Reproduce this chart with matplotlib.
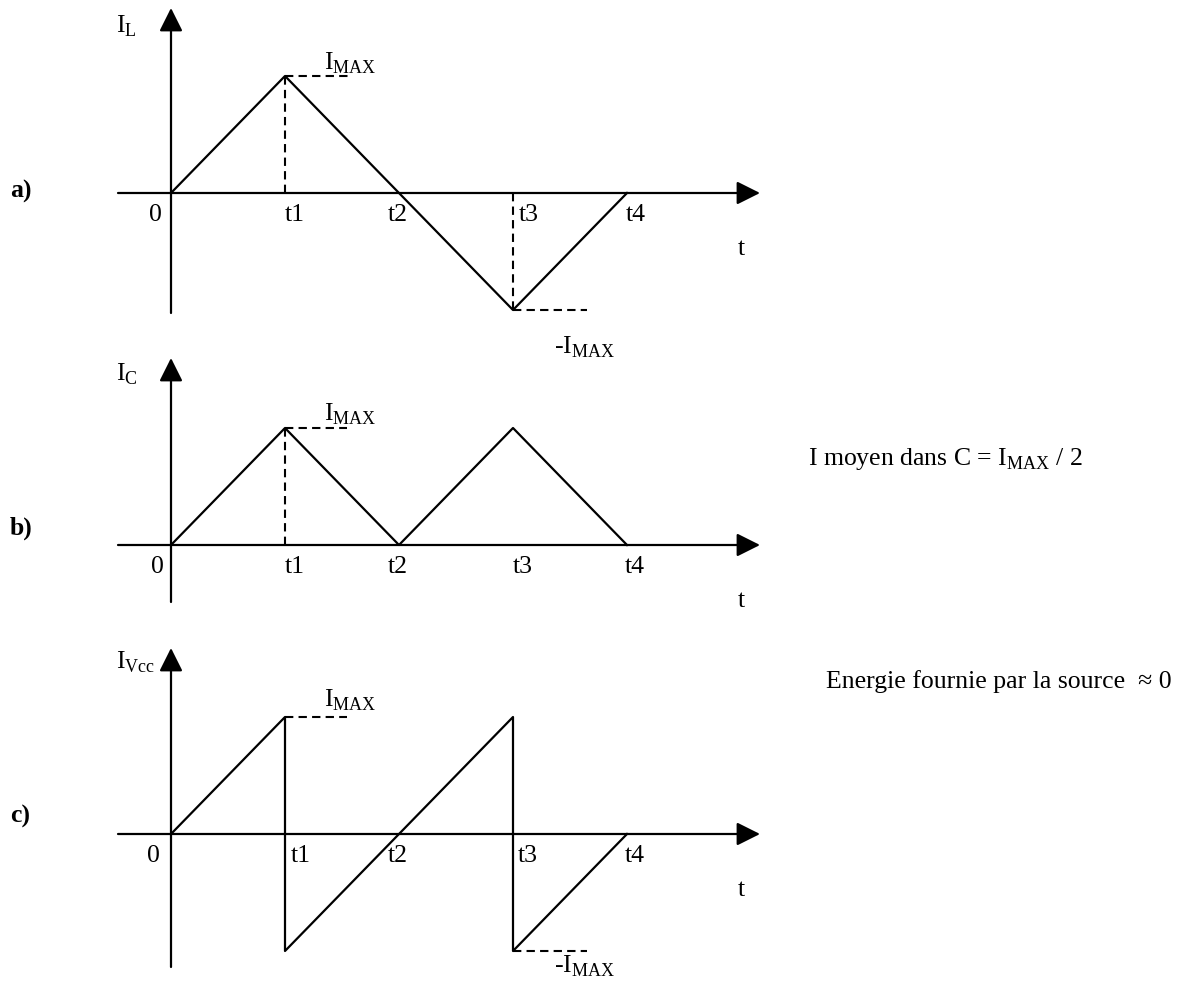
import matplotlib
matplotlib.use('Agg')
import matplotlib.pyplot as plt

plt.rcParams['font.family'] = ['Liberation Serif', 'DejaVu Serif']
plt.rcParams['mathtext.fontset'] = 'custom'
plt.rcParams['mathtext.rm'] = 'Liberation Serif'

# courbes (temps en unites t1..t4, courant en unites de IMAX)
t = [0, 1, 2, 3, 4]
i_L = [0, 1, 0, -1, 0]
i_C = [0, 1, 0, 1, 0]
t_vcc = [0, 1, 1, 2, 3, 3, 4]
i_vcc = [0, 1, -1, 0, 1, -1, 0]
tick_names = ['0', 't1', 't2', 't3', 't4']

W, H = 1181, 981
X0, UX, UY = 171, 114, 117
FS = 18.5
LW = 1.6

fig = plt.figure(figsize=(11.81, 9.81), dpi=100)


def panel(top, bot, y0):
    ax = fig.add_axes([0, 1 - bot / H, 1, (bot - top) / H])
    ax.set_xlim(-X0 / UX, (W - X0) / UX)
    ax.set_ylim((y0 - bot) / UY, (y0 - top) / UY)
    ax.axis('off')
    return ax


def px(x):
    return (x - X0) / UX


def arrow(ax, p1, p2):
    ax.annotate('', xy=p2, xytext=p1, annotation_clip=False,
                arrowprops=dict(arrowstyle='-|>,head_length=0.62,head_width=0.31',
                                mutation_scale=23, lw=LW, color='k',
                                shrinkA=0, shrinkB=0))


def axes_frame(ax, y0, ybot, ytop, name, name_y, letter, letter_y, tick_dx):
    py = lambda y: (y0 - y) / UY
    arrow(ax, (px(118), 0), (px(760), 0))
    arrow(ax, (0, py(ybot)), (0, py(ytop)))
    ax.text(px(116), py(name_y), name, fontsize=FS, ha='left', va='center')
    ax.text(px(10), py(letter_y), letter, fontsize=FS, fontweight='bold',
            ha='left', va='center')
    ax.text(px(741), py(y0 + 56), 't', fontsize=FS, ha='center', va='center')
    for k, lab in enumerate(tick_names):
        ax.text(t[k] + tick_dx[k] / UX, py(y0 + 22), lab, fontsize=FS,
                ha='left', va='center')
    return py


dash = dict(color='k', lw=1.5, linestyle=(0, (4, 2.5)))
imax = r'I$_{\rm MAX}$'

# a) courant dans L
ax = panel(0, 365, 193)
py = axes_frame(ax, 193, 313, 8, r'I$_{\rm L}$', 26, 'a)', 191,
                [-22, 0, -11, 6, -1])
ax.plot(t, i_L, color='k', lw=LW)
ax.plot([t[1], t[1]], [0, i_L[1]], **dash)
ax.plot([t[1], px(350)], [i_L[1], i_L[1]], **dash)
ax.plot([t[3], t[3]], [0, i_L[3]], **dash)
ax.plot([t[3], px(587)], [i_L[3], i_L[3]], **dash)
ax.text(px(324), py(63), imax, fontsize=FS, ha='left', va='center')
ax.text(px(554), py(347), '-' + imax, fontsize=FS, ha='left', va='center')

# b) courant dans C
ax = panel(365, 640, 545)
py = axes_frame(ax, 545, 602, 358, r'I$_{\rm C}$', 374, 'b)', 528,
                [-20, 0, -11, 0, -2])
ax.plot(t, i_C, color='k', lw=LW)
ax.plot([t[1], t[1]], [0, i_C[1]], **dash)
ax.plot([t[1], px(347)], [i_C[1], i_C[1]], **dash)
ax.text(px(324), py(414), imax, fontsize=FS, ha='left', va='center')
ax.text(px(808), py(459), 'I moyen dans C = ' + imax + ' / 2', fontsize=FS,
        ha='left', va='center')

# c) courant fourni par Vcc
ax = panel(640, 981, 834)
py = axes_frame(ax, 834, 967, 648, r'I$_{\rm Vcc}$', 662, 'c)', 816,
                [-24, 6, -11, 5, -2])
ax.plot(t_vcc, i_vcc, color='k', lw=LW)
ax.plot([t_vcc[1], px(347)], [i_vcc[1], i_vcc[1]], **dash)
ax.plot([t_vcc[5], px(587)], [i_vcc[5], i_vcc[5]], **dash)
ax.text(px(324), py(700), imax, fontsize=FS, ha='left', va='center')
ax.text(px(554), py(966), '-' + imax, fontsize=FS, ha='left', va='center')
ax.text(px(1172), py(682), 'Energie fournie par la source  \u2248 0', fontsize=FS,
        ha='right', va='center')

fig.savefig('out.png', dpi=100, facecolor='white')
